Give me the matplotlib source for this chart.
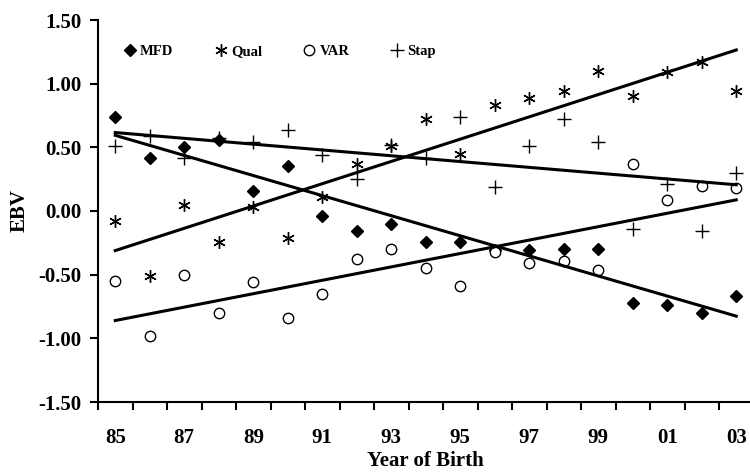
import numpy as np
import matplotlib
matplotlib.use("Agg")
import matplotlib.pyplot as plt

# Year of birth categories
years = ["85", "86", "87", "88", "89", "90", "91", "92", "93", "94",
         "95", "96", "97", "98", "99", "00", "01", "02", "03"]

# EBV per series
mfd = [0.74, 0.42, 0.50, 0.56, 0.16, 0.35, -0.04, -0.16, -0.10, -0.24,
       -0.24, -0.31, -0.31, -0.30, -0.30, -0.72, -0.74, -0.80, -0.67]
qual = [-0.08, -0.51, 0.05, -0.24, 0.03, -0.21, 0.11, 0.37, 0.51, 0.72,
        0.45, 0.83, 0.89, 0.94, 1.10, 0.90, 1.09, 1.17, 0.94]
var = [-0.55, -0.98, -0.50, -0.80, -0.56, -0.84, -0.65, -0.38, -0.30, -0.45,
       -0.59, -0.32, -0.41, -0.39, -0.46, 0.37, 0.09, 0.20, 0.18]
stap = [0.51, 0.59, 0.42, 0.57, 0.54, 0.64, 0.44, 0.25, 0.52, 0.42,
        0.74, 0.19, 0.51, 0.72, 0.54, -0.14, 0.21, -0.16, 0.30]

plt.rcParams['font.family'] = ['Liberation Serif', 'DejaVu Serif']
plt.rcParams['font.weight'] = 'bold'

fig = plt.figure(figsize=(7.5, 4.76), dpi=100)
ax = fig.add_axes([98 / 750, 74 / 476, 655.5 / 750, 382 / 476])

x = np.arange(len(years))

series = [
    ("MFD", mfd, dict(marker="D", markersize=6.5, color="black", markerfacecolor="black")),
    ("Qual", qual, dict(marker=(6, 2, 0), markersize=9, color="black", markeredgewidth=1.0)),
    ("VAR", var, dict(marker="o", markersize=7.5, color="black", markerfacecolor="white", markeredgewidth=1.0)),
    ("Stap", stap, dict(marker="+", markersize=10, color="black", markeredgewidth=1.0)),
]

for name, vals, style in series:
    ax.plot(x, vals, linestyle="none", label=name, clip_on=False, **style)

# linear trend for each series
for name, vals, style in series:
    k, b = np.polyfit(x, vals, 1)
    ax.plot([x[0], x[-1]], [k * x[0] + b, k * x[-1] + b], color="black", linewidth=2.2)

ax.set_xlim(-0.5, len(years) - 0.5)
ax.set_ylim(-1.5, 1.5)

ax.spines["top"].set_visible(False)
ax.spines["right"].set_visible(False)
ax.spines["left"].set_linewidth(1.5)
ax.spines["bottom"].set_linewidth(1.5)

ax.set_yticks(np.arange(-1.5, 1.51, 0.5))
ax.set_yticklabels([f"{v:.2f}" for v in np.arange(-1.5, 1.51, 0.5)], fontsize=15, fontweight="bold")
ax.tick_params(axis="y", direction="out", length=6, width=1.5, pad=6)

# tick marks at category boundaries, labels at every other category
ax.set_xticks(np.arange(-0.5, len(years), 1.0))
ax.set_xticklabels([])
ax.tick_params(axis="x", which="major", direction="out", length=6, width=1.5)
ax.set_xticks(x[::2], minor=True)
ax.set_xticklabels(years[::2], minor=True, fontsize=15, fontweight="bold")
ax.tick_params(axis="x", which="minor", length=0, pad=19)

ax.set_xlabel("Year of Birth", fontsize=15, fontweight="bold", labelpad=2)
ax.set_ylabel("EBV", fontsize=15, fontweight="bold", labelpad=6)

ax.legend(ncol=4, frameon=False, loc="upper left", bbox_to_anchor=(0.015, 0.97),
          handletextpad=0.1, columnspacing=2.65, handlelength=1.2,
          prop={"weight": "bold", "size": 10.5})

fig.savefig("out.png", dpi=100)
